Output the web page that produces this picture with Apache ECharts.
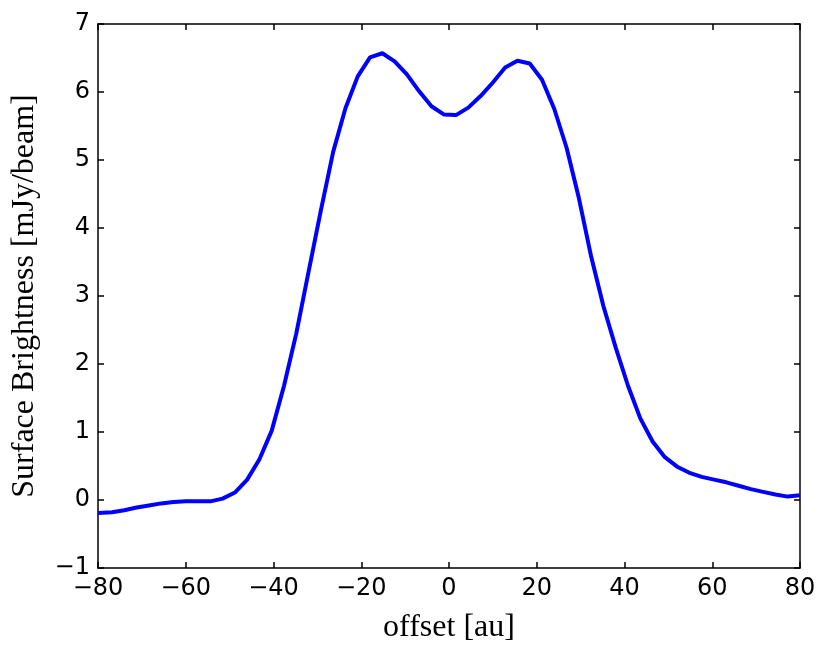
<!DOCTYPE html>
<html>
<head>
<meta charset="utf-8">
<script src="https://cdn.jsdelivr.net/npm/echarts@6/dist/echarts.min.js"></script>
<style>
  html, body { margin: 0; padding: 0; background: #fff; }
  #chart { width: 830px; height: 653px; }
</style>
</head>
<body>
<div id="chart"></div>
<script type="text/javascript">
// offset [au] and surface brightness [mJy/beam]
var offsets = [-80, -76.8, -74.0, -71.2, -68.4, -65.6, -62.8, -60.0, -57.2, -54.4,
  -51.6, -48.8, -46.0, -43.2, -40.4, -37.6, -34.8, -32.0, -29.2, -26.4,
  -23.6, -20.8, -18.0, -15.2, -12.4, -9.6, -6.8, -4.0, -1.2, 1.6,
  4.4, 7.2, 10.0, 12.8, 15.6, 18.4, 21.2, 24.0, 26.8, 29.6,
  32.4, 35.2, 38.0, 40.8, 43.6, 46.4, 49.2, 52.0, 54.8, 57.6,
  60.4, 63.2, 66.0, 68.8, 71.6, 74.4, 77.2, 80.0];
var brightness = [-0.19, -0.18, -0.15, -0.11, -0.08, -0.05, -0.03, -0.02, -0.02, -0.02,
  0.02, 0.11, 0.30, 0.60, 1.02, 1.68, 2.45, 3.36, 4.26, 5.12,
  5.76, 6.23, 6.51, 6.57, 6.45, 6.26, 6.01, 5.79, 5.67, 5.66,
  5.77, 5.94, 6.14, 6.36, 6.46, 6.42, 6.18, 5.75, 5.18, 4.44,
  3.58, 2.85, 2.24, 1.68, 1.20, 0.86, 0.63, 0.49, 0.40, 0.34,
  0.30, 0.26, 0.21, 0.16, 0.12, 0.08, 0.05, 0.07];

var xTicks = { min: -80, max: 80, interval: 20 };
var yTicks = { min: -1, max: 7, interval: 1 };

(function() {
    var chart = echarts.init(document.getElementById('chart'));

    var points = [];
    for (var i = 0; i < offsets.length; i++) {
        points.push([offsets[i], brightness[i]]);
    }

    function minus(v) {
        return String(v).replace('-', '\u2212');
    }

    var lineStyle = { color: '#000', width: 1.5 };
    var tickStyle = { color: '#000', width: 1.5 };
    var labelFont = { fontFamily: 'DejaVu Sans', fontSize: 24, color: '#000' };
    var titleFont = { fontFamily: 'Liberation Serif', fontSize: 32, color: '#000' };

    function xAxis(pos, show) {
        return {
            type: 'value', position: pos,
            min: xTicks.min, max: xTicks.max, interval: xTicks.interval,
            name: show ? 'offset [au]' : '',
            nameLocation: 'middle', nameGap: 44,
            nameTextStyle: titleFont,
            axisLine: { show: true, onZero: false, lineStyle: lineStyle },
            axisTick: { show: true, inside: true, length: 6, lineStyle: tickStyle },
            axisLabel: Object.assign({ show: show, margin: 9, formatter: minus }, labelFont),
            splitLine: { show: false }
        };
    }
    function yAxis(pos, show) {
        return {
            type: 'value', position: pos,
            min: yTicks.min, max: yTicks.max, interval: yTicks.interval,
            name: show ? 'Surface Brightness [mJy/beam]' : '',
            nameLocation: 'middle', nameGap: 57,
            nameTextStyle: titleFont,
            axisLine: { show: true, onZero: false, lineStyle: lineStyle },
            axisTick: { show: true, inside: true, length: 6, lineStyle: tickStyle },
            axisLabel: Object.assign({ show: show, margin: 8, formatter: minus }, labelFont),
            splitLine: { show: false }
        };
    }

    var option = {
        animation: false,
        backgroundColor: '#fff',
        grid: { left: 98, right: 30, top: 24, bottom: 85, containLabel: false, outerBoundsMode: 'none' },
        xAxis: [xAxis('bottom', true), xAxis('top', false)],
        yAxis: [yAxis('left', true), yAxis('right', false)],
        series: [{
            type: 'line',
            xAxisIndex: 0, yAxisIndex: 0,
            data: points,
            showSymbol: false,
            lineStyle: { color: '#0000ff', width: 4 },
            clip: true
        }]
    };
    chart.setOption(option);
})();
</script>
</body>
</html>
